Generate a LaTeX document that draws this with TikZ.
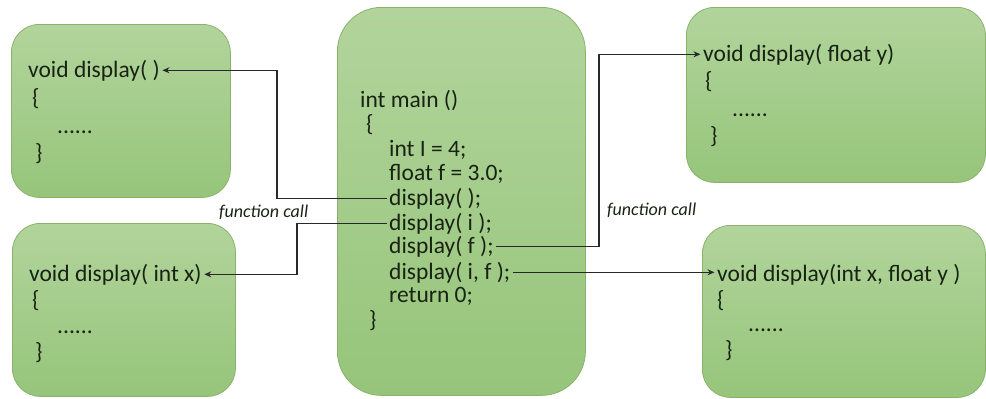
\documentclass[tikz,border=0pt]{standalone}
\usepackage{fontspec}
\setmainfont{Carlito}
\usetikzlibrary{arrows.meta}
\definecolor{boxtop}{RGB}{178,212,156}
\definecolor{boxbot}{RGB}{150,197,122}
\definecolor{boxline}{RGB}{138,178,108}
\definecolor{txt}{RGB}{25,35,20}
\definecolor{wire}{RGB}{40,40,40}
\begin{document}
\begin{tikzpicture}[x=1pt,y=-1pt,
 box/.style={draw=boxline, line width=0.8pt, top color=boxtop, bottom color=boxbot, rounded corners=28pt, rectangle, inner sep=0pt, anchor=north west},
 code/.style={anchor=base west, inner sep=2.5pt, text=txt, font=\fontsize{23.5}{26}\selectfont},
 lbl/.style={anchor=base west, inner sep=0pt, text=txt, font=\fontsize{18}{20}\selectfont\itshape},
 conn/.style={draw=wire, line width=1.1pt, -{Stealth[length=7pt,width=6pt]}},
 link/.style={draw=wire, line width=1.1pt}]
\useasboundingbox (0,0) rectangle (986,399);
% boxes
\node[box, minimum width=219pt, minimum height=173pt] (tl) at (11,24) {};
\node[box, minimum width=223pt, minimum height=173pt] (bl) at (12,223) {};
\node[box, minimum width=248pt, minimum height=388pt, rounded corners=44pt] (mn) at (337,7) {};
\node[box, minimum width=299pt, minimum height=175pt] (tr) at (686,7) {};
\node[box, minimum width=283pt, minimum height=172pt] (br) at (702,225) {};
% top-left
\node[code] (tl1) at (25.5,77) {void display( )};
\node[code] (tl2) at (29.5,105) {\{};
\node[code] (tl3) at (54.5,133) {......};
\node[code] (tl4) at (32.5,160) {\}};
% bottom-left
\node[code] (bl1) at (26.5,281) {void display( int x)};
\node[code] (bl2) at (29.5,307) {\{};
\node[code] (bl3) at (54.5,333) {......};
\node[code] (bl4) at (32.5,359) {\}};
% main
\node[code] (m1) at (357.5,107) {int main ()};
\node[code] (m2) at (363.5,131) {\{};
\node[code] (m3) at (386.5,156) {int I = 4;};
\node[code] (m4) at (386.5,180) {float f = 3.0;};
\node[code] (m5) at (386.5,205) {display( );};
\node[code] (m6) at (386.5,230) {display( i );};
\node[code] (m7) at (386.5,253) {display( f );};
\node[code] (m8) at (386.5,279) {display( i, f );};
\node[code] (m9) at (386.5,302) {return 0;};
\node[code] (m10) at (366.5,327) {\}};
% top-right
\node[code] (tr1) at (700.5,61) {void display( float y)};
\node[code] (tr2) at (702.5,88) {\{};
\node[code] (tr3) at (729.5,116) {......};
\node[code] (tr4) at (707.5,143) {\}};
% bottom-right
\node[code] (br1) at (714.5,281) {void display(int x, float y )};
\node[code] (br2) at (714.5,307) {\{};
\node[code] (br3) at (745.5,331) {......};
\node[code] (br4) at (722.5,357) {\}};
% labels
\node[lbl] (fc1) at (219,217) {function call};
\node[lbl] (fc2) at (607,215) {function call};
% connectors
\coordinate (k1) at (277,0);
\coordinate (k2) at (297,0);
\coordinate (k3) at (599,0);
\draw[conn] (m5.west) -- (m5.west -| k1) |- (tl1.east);
\draw[conn] (m6.west) -- (m6.west -| k2) |- (bl1.east);
\draw[conn] (m7.east) -- (m7.east -| k3) |- (tr1.west);
\draw[conn] (m8.east) -- (m8.east -| br1.west);
\end{tikzpicture}
\end{document}
